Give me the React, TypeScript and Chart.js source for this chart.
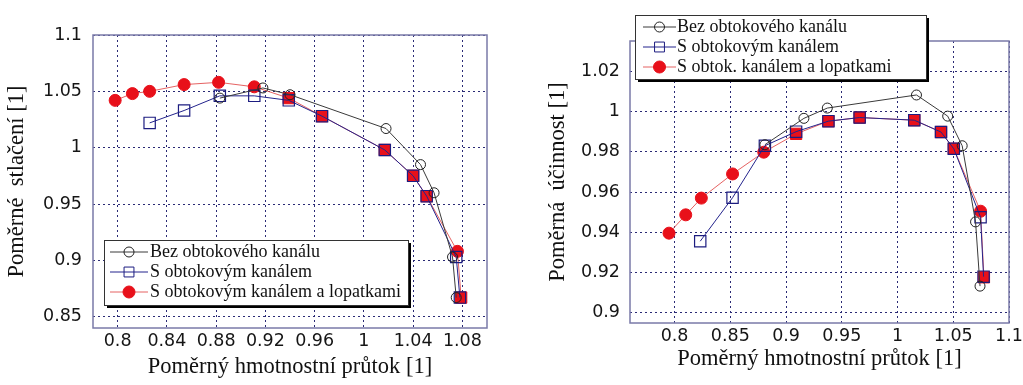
import React, { useEffect, useRef } from "react";
import { Chart, registerables } from "chart.js";

Chart.register(...registerables);

// ---------- Left chart: Poměrné stlačení ----------
const leftXTicks = [0.8, 0.84, 0.88, 0.92, 0.96, 1, 1.04, 1.08];
const leftXTickLabels = ["0.8", "0.84", "0.88", "0.92", "0.96", "1", "1.04", "1.08"];
const leftYTicks = [0.85, 0.9, 0.95, 1, 1.05, 1.1];
const leftYTickLabels = ["0.85", "0.9", "0.95", "1", "1.05", "1.1"];

const leftBezX = [0.883, 0.918, 0.94, 1.018, 1.046, 1.057, 1.072, 1.075];
const leftBezY = [1.044, 1.053, 1.047, 1.017, 0.985, 0.96, 0.903, 0.867];
const leftObtokX = [0.826, 0.854, 0.883, 0.911, 0.939, 0.966, 1.017, 1.04, 1.051, 1.075, 1.078];
const leftObtokY = [1.022, 1.033, 1.046, 1.046, 1.042, 1.028, 0.998, 0.975, 0.957, 0.903, 0.867];
const leftLopatkyX = [0.798, 0.812, 0.826, 0.854, 0.882, 0.911, 0.939, 0.966, 1.017, 1.04, 1.051, 1.076, 1.079];
const leftLopatkyY = [1.042, 1.048, 1.05, 1.056, 1.058, 1.054, 1.044, 1.028, 0.998, 0.975, 0.957, 0.908, 0.867];

// ---------- Right chart: Poměrná účinnost ----------
const rightXTicks = [0.8, 0.85, 0.9, 0.95, 1, 1.05, 1.1];
const rightXTickLabels = ["0.8", "0.85", "0.9", "0.95", "1", "1.05", "1.1"];
const rightYTicks = [0.9, 0.92, 0.94, 0.96, 0.98, 1, 1.02];
const rightYTickLabels = ["0.9", "0.92", "0.94", "0.96", "0.98", "1", "1.02"];

const rightBezX = [0.881, 0.916, 0.937, 1.017, 1.045, 1.058, 1.07, 1.074];
const rightBezY = [0.9835, 0.9966, 1.0017, 1.0082, 0.9977, 0.983, 0.9452, 0.9133];
const rightObtokX = [0.823, 0.852, 0.881, 0.909, 0.938, 0.966, 1.015, 1.039, 1.0505, 1.0745, 1.0772];
const rightObtokY = [0.9356, 0.9572, 0.983, 0.99, 0.9952, 0.997, 0.9957, 0.9898, 0.9815, 0.9475, 0.918];
const rightLopatkyX = [0.795, 0.81, 0.824, 0.852, 0.88, 0.909, 0.938, 0.966, 1.015, 1.039, 1.0505, 1.0745, 1.0775];
const rightLopatkyY = [0.9396, 0.9487, 0.957, 0.969, 0.9798, 0.9889, 0.9952, 0.997, 0.9957, 0.9898, 0.9815, 0.9505, 0.9177];

const legendLabelsLeft = ["Bez obtokového kanálu", "S obtokovým kanálem", "S obtokovým kanálem a lopatkami"];
const legendLabelsRight = ["Bez obtokového kanálu", "S obtokovým kanálem", "S obtok. kanálem a lopatkami"];

const BLACK_LINE = "#3a3a3a";
const BLUE_LINE = "#23238c";
const RED_LINE = "rgba(225,70,70,0.85)";
const RED_FILL = "#e8101a";
const TICK_FONT = { family: "DejaVu Sans", size: 17.5 };
const TITLE_FONT = { family: "Liberation Serif", size: 22.5 };
const SERIF = "Liberation Serif";

function pts(xs: number[], ys: number[]) {
  return xs.map((x, i) => ({ x, y: ys[i] }));
}

function drawMarker(ctx: CanvasRenderingContext2D, style: string, x: number, y: number, stroke: string, fill: string, r: number) {
  ctx.save();
  ctx.lineWidth = 1;
  ctx.strokeStyle = stroke;
  ctx.fillStyle = fill;
  ctx.beginPath();
  if (style === "rect") {
    const s = r * Math.SQRT1_2;
    ctx.rect(x - s, y - s, 2 * s, 2 * s);
  } else {
    ctx.arc(x, y, r, 0, Math.PI * 2);
  }
  ctx.fill();
  ctx.stroke();
  ctx.restore();
}

const framePlugin = {
  id: "frame",
  beforeDatasetsDraw(chart: any) {
    const { ctx, chartArea } = chart;
    ctx.save();
    ctx.strokeStyle = "#7a7aa8";
    ctx.lineWidth = 1.5;
    ctx.strokeRect(chartArea.left, chartArea.top, chartArea.right - chartArea.left, chartArea.bottom - chartArea.top);
    ctx.restore();
  },
};

function makeLegendPlugin(cfg: { x: number; y: number; w: number; h: number; rows: number[]; l0: number; l1: number; tx: number; labels: string[] }) {
  return {
    id: "boxLegend",
    afterDraw(chart: any) {
      const ctx: CanvasRenderingContext2D = chart.ctx;
      ctx.save();
      ctx.fillStyle = "#000";
      ctx.fillRect(cfg.x + 3, cfg.y + 3, cfg.w, cfg.h);
      ctx.fillStyle = "#fff";
      ctx.fillRect(cfg.x, cfg.y, cfg.w, cfg.h);
      ctx.strokeStyle = "#333";
      ctx.lineWidth = 1;
      ctx.strokeRect(cfg.x + 0.5, cfg.y + 0.5, cfg.w, cfg.h);
      chart.data.datasets.forEach((ds: any, i: number) => {
        const yy = cfg.rows[i];
        ctx.strokeStyle = ds.borderColor;
        ctx.lineWidth = 1;
        ctx.beginPath();
        ctx.moveTo(cfg.l0, yy);
        ctx.lineTo(cfg.l1, yy);
        ctx.stroke();
        const style = Array.isArray(ds.pointStyle) ? ds.pointStyle[0] : ds.pointStyle;
        drawMarker(ctx, style, (cfg.l0 + cfg.l1) / 2, yy, ds.pointBorderColor, ds.pointBackgroundColor, ds.legendRadius);
        ctx.fillStyle = "#111";
        ctx.font = `18px "${SERIF}"`;
        ctx.textBaseline = "middle";
        ctx.textAlign = "left";
        ctx.fillText(cfg.labels[i], cfg.tx, yy);
      });
      ctx.restore();
    },
  };
}

function buildConfig(opts: any) {
  const {
    bezX, bezY, obX, obY, loX, loY, redStyles,
    xMin, xMax, yMin, yMax, xTicks, xLabels, yTicks, yLabels,
    xTitle, yTitle, padding, yWidth, xHeight, yTitlePad, xTitlePad, yTickPad, xTickPad, legend,
  } = opts;
  return {
    type: "scatter",
    data: {
      datasets: [
        {
          label: legend.labels[0],
          data: pts(bezX, bezY),
          showLine: true,
          borderColor: BLACK_LINE,
          borderWidth: 1,
          pointStyle: "circle",
          pointRadius: 5,
          legendRadius: 5,
          pointBorderColor: "#222",
          pointBackgroundColor: "rgba(255,255,255,0)",
          pointBorderWidth: 1,
        },
        {
          label: legend.labels[1],
          data: pts(obX, obY),
          showLine: true,
          borderColor: BLUE_LINE,
          borderWidth: 1,
          pointStyle: "rect",
          pointRadius: 8,
          legendRadius: 7,
          pointBorderColor: "#1c1c80",
          pointBackgroundColor: "rgba(255,255,255,0)",
          pointBorderWidth: 1.2,
        },
        {
          label: legend.labels[2],
          data: pts(loX, loY),
          showLine: true,
          borderColor: RED_LINE,
          borderWidth: 1,
          pointStyle: redStyles,
          pointRadius: redStyles.map((s: string) => (s === "rect" ? 8 : 6)),
          legendRadius: 6,
          pointBorderColor: RED_FILL,
          pointBackgroundColor: RED_FILL,
          pointBorderWidth: 1,
        },
      ],
    },
    options: {
      responsive: false,
      animation: false,
      layout: { padding },
      plugins: { legend: { display: false }, tooltip: { enabled: false } },
      scales: {
        x: {
          type: "linear",
          min: xMin,
          max: xMax,
          afterBuildTicks: (s: any) => { s.ticks = xTicks.map((v: number) => ({ value: v })); },
          afterFit: (s: any) => { s.height = xHeight; s.paddingLeft = 0; s.paddingRight = 0; },
          ticks: { font: TICK_FONT, color: "#151515", padding: xTickPad, maxRotation: 0, autoSkip: false, callback: (_v: any, i: number) => xLabels[i] },
          grid: { color: "#2a2a75", lineWidth: 1, drawTicks: false },
          border: { display: false, dash: [2, 3] },
          title: { display: true, text: xTitle, font: TITLE_FONT, color: "#111", padding: { top: 0, bottom: xTitlePad } },
        },
        y: {
          type: "linear",
          min: yMin,
          max: yMax,
          afterBuildTicks: (s: any) => { s.ticks = yTicks.map((v: number) => ({ value: v })); },
          afterFit: (s: any) => { s.width = yWidth; s.paddingTop = 0; s.paddingBottom = 0; },
          ticks: { font: TICK_FONT, color: "#151515", padding: yTickPad, autoSkip: false, callback: (_v: any, i: number) => yLabels[i] },
          grid: { color: "#2a2a75", lineWidth: 1, drawTicks: false },
          border: { display: false, dash: [2, 3] },
          title: { display: true, text: yTitle, font: TITLE_FONT, color: "#111", padding: { top: yTitlePad, bottom: 0 } },
        },
      },
    },
    plugins: [framePlugin, makeLegendPlugin(legend)],
  };
}

function PlotCanvas({ left, width, height, config }: { left: number; width: number; height: number; config: () => any }) {
  const ref = useRef<HTMLCanvasElement>(null);
  useEffect(() => {
    const chart = new Chart(ref.current as HTMLCanvasElement, config());
    return () => chart.destroy();
  }, []);
  return (
    <canvas
      ref={ref}
      width={width}
      height={height}
      style={{ position: "absolute", left, top: 0, width, height, display: "block" }}
    />
  );
}

export default function App() {
  const leftCfg = () =>
    buildConfig({
      bezX: leftBezX, bezY: leftBezY, obX: leftObtokX, obY: leftObtokY, loX: leftLopatkyX, loY: leftLopatkyY,
      redStyles: ["circle", "circle", "circle", "circle", "circle", "circle", "rect", "rect", "rect", "rect", "rect", "circle", "rect"],
      xMin: 0.78, xMax: 1.1, yMin: 0.84, yMax: 1.1,
      xTicks: leftXTicks, xLabels: leftXTickLabels, yTicks: leftYTicks, yLabels: leftYTickLabels,
      xTitle: "Poměrný hmotnostní průtok [1]",
      yTitle: "Poměrné  stlačení [1]",
      padding: { left: 0, top: 35, right: 28, bottom: 0 },
      yWidth: 93, xHeight: 57, yTitlePad: 4, xTitlePad: 4, yTickPad: 11, xTickPad: 3,
      legend: { x: 104, y: 240, w: 304, h: 65, rows: [252, 272, 292], l0: 110, l1: 148, tx: 150, labels: legendLabelsLeft },
    });
  const rightCfg = () =>
    buildConfig({
      bezX: rightBezX, bezY: rightBezY, obX: rightObtokX, obY: rightObtokY, loX: rightLopatkyX, loY: rightLopatkyY,
      redStyles: ["circle", "circle", "circle", "circle", "circle", "rect", "rect", "rect", "rect", "rect", "rect", "circle", "rect"],
      xMin: 0.76, xMax: 1.1, yMin: 0.895, yMax: 1.035,
      xTicks: rightXTicks, xLabels: rightXTickLabels, yTicks: rightYTicks, yLabels: rightYTickLabels,
      xTitle: "Poměrný hmotnostní průtok [1]",
      yTitle: "Poměrná  účinnost [1]",
      padding: { left: 0, top: 41, right: 14, bottom: 0 },
      yWidth: 115, xHeight: 62, yTitlePad: 30, xTitlePad: 12, yTickPad: 10, xTickPad: 3,
      legend: { x: 120, y: 15, w: 291, h: 64, rows: [27, 47, 67], l0: 128, l1: 161, tx: 162, labels: legendLabelsRight },
    });
  return (
    <div style={{ position: "fixed", left: 0, top: 0, width: 1023, height: 385, background: "#fff", overflow: "hidden" }}>
      <PlotCanvas left={0} width={515} height={385} config={leftCfg} />
      <PlotCanvas left={515} width={508} height={385} config={rightCfg} />
    </div>
  );
}
